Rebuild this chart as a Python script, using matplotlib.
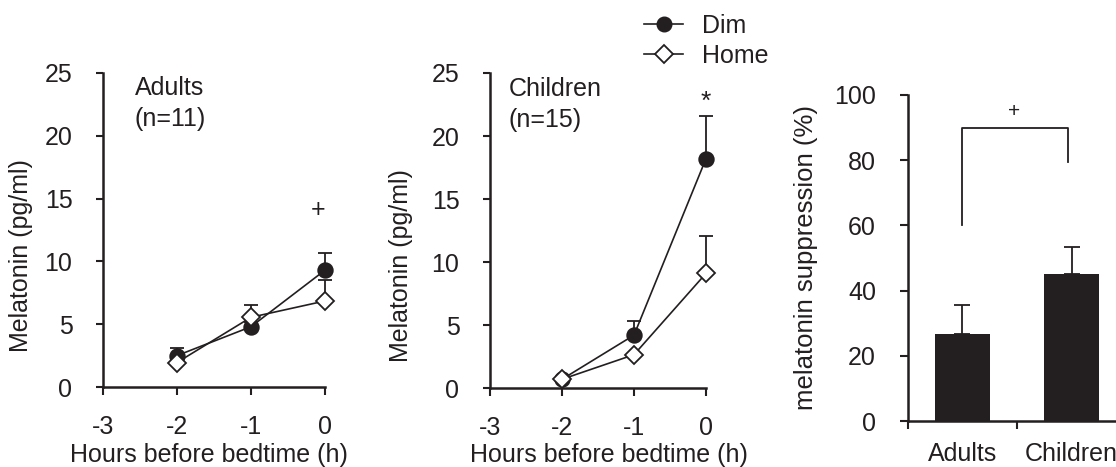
import matplotlib
matplotlib.use('Agg')
import matplotlib.pyplot as plt
from matplotlib.lines import Line2D

# dados
horas = [-2, -1, 0]
adultos_dim = [2.5, 4.8, 9.3]
adultos_dim_err = [0.6, 0.4, 1.4]
adultos_home = [1.95, 5.55, 6.85]
adultos_home_err = [0.0, 0.95, 1.65]
criancas_dim = [0.7, 4.2, 18.2]
criancas_dim_err = [0.0, 1.1, 3.4]
criancas_home = [0.7, 2.65, 9.1]
criancas_home_err = [0.0, 0.0, 3.0]

grupos = ['Adults', 'Children']
supressao = [26.7, 45.2]
supressao_err = [9.0, 8.3]

cor = '#231f20'
fs = 18
plt.rcParams['font.family'] = ['Liberation Sans', 'DejaVu Sans']
plt.rcParams['font.size'] = fs
plt.rcParams['text.color'] = cor
plt.rcParams['axes.edgecolor'] = cor
plt.rcParams['xtick.color'] = cor
plt.rcParams['ytick.color'] = cor
plt.rcParams['axes.labelcolor'] = cor

fig = plt.figure(figsize=(11.16, 4.67), dpi=100)
ax1 = fig.add_axes([0.0923, 0.1713, 0.1989, 0.6724])
ax2 = fig.add_axes([0.4391, 0.169, 0.1935, 0.6747])
ax3 = fig.add_axes([0.8136, 0.0985, 0.1954, 0.6981])


def painel_linhas(ax, dim, dim_err, home, home_err):
    # Home por cima do Dim, como no original
    for dados, err, mk, ms, mfc, z in [(dim, dim_err, 'o', 10.5, cor, 3),
                                        (home, home_err, 'D', 9, 'white', 4)]:
        linhas = ax.errorbar(horas, dados, yerr=[[0] * 3, err], color=cor, lw=1.2,
                             marker=mk, ms=ms, mfc=mfc, mec=cor, mew=1.3,
                             capsize=5, capthick=1.3, elinewidth=1.3, zorder=z)
        for art in linhas.lines[0:1] + tuple(linhas.lines[1]) + tuple(linhas.lines[2]):
            art.set_clip_on(False)
    ax.set_xlim(-3, 0)
    ax.set_ylim(0, 25)
    ax.set_xticks([-3, -2, -1, 0])
    ax.set_xticklabels(['-3', '-2', '-1', '0'])
    ax.set_yticks([0, 5, 10, 15, 20, 25])
    for s in ['top', 'right']:
        ax.spines[s].set_visible(False)
    for s in ['left', 'bottom']:
        ax.spines[s].set_linewidth(1.8)
    ax.tick_params(axis='y', direction='out', length=5, width=1.5, pad=17)
    ax.tick_params(axis='x', direction='out', length=6, width=1.5, pad=14)
    ax.set_ylabel('Melatonin (pg/ml)')
    ax.set_xlabel('Hours before bedtime (h)')


painel_linhas(ax1, adultos_dim, adultos_dim_err, adultos_home, adultos_home_err)
ax1.text(-2.57, 23.8, 'Adults', va='center', ha='left')
ax1.text(-2.57, 21.3, '(n=11)', va='center', ha='left')
ax1.text(-0.1, 14.1, '+', va='center', ha='center')
ax1.yaxis.set_label_coords(-0.315, 0.42)
ax1.xaxis.set_label_coords(0.477, -0.178)

painel_linhas(ax2, criancas_dim, criancas_dim_err, criancas_home, criancas_home_err)
ax2.text(-2.74, 23.7, 'Children', va='center', ha='left')
ax2.text(-2.74, 21.3, '(n=15)', va='center', ha='left')
ax2.text(0, 22.7, '*', va='center', ha='center', fontsize=19)
ax2.yaxis.set_label_coords(-0.356, 0.39)
ax2.xaxis.set_label_coords(0.55, -0.175)

# legenda
h_dim = Line2D([], [], color=cor, lw=1.2, marker='o', ms=10.5, mfc=cor, mec=cor)
h_home = Line2D([], [], color=cor, lw=1.2, marker='D', ms=9, mfc='white', mec=cor, mew=1.3)
fig.legend([h_dim, h_home], ['Dim', 'Home'], loc='upper left',
           bbox_to_anchor=(0.5775, 0.971), frameon=False, handlelength=1.55,
           handletextpad=0.75, labelspacing=0.25, borderaxespad=0, borderpad=0)

# barras
pos = [0.5, 1.5]
ax3.bar(pos, supressao, width=0.5, color=cor,
        yerr=[[0, 0], supressao_err], capsize=6,
        error_kw=dict(elinewidth=1.3, capthick=1.3, ecolor=cor), zorder=2)
ax3.set_xlim(0, 2)
ax3.set_ylim(0, 100)
ax3.set_yticks([0, 20, 40, 60, 80, 100])
ax3.set_xticks([0, 1, 2])
ax3.set_xticklabels([])
ax3.set_xticks(pos, minor=True)
ax3.set_xticklabels(grupos, minor=True)
ax3.tick_params(axis='x', which='minor', length=0, pad=15)
ax3.tick_params(axis='x', which='major', direction='out', length=6, width=1.5)
ax3.tick_params(axis='y', direction='out', length=6, width=1.5, pad=17)
for s in ['top', 'right']:
    ax3.spines[s].set_visible(False)
for s in ['left', 'bottom']:
    ax3.spines[s].set_linewidth(1.8)
ax3.set_ylabel('melatonin suppression (%)', fontsize=18.5)
ax3.yaxis.set_label_coords(-0.413, 0.5)

# colchete de significancia
ax3.plot([0.5, 0.5, 1.47, 1.47], [60, 90, 90, 79.5], color=cor, lw=1.3)
ax3.text(0.97, 95, '+', ha='center', va='center', fontsize=15)

fig.savefig('out.png', dpi=100)
